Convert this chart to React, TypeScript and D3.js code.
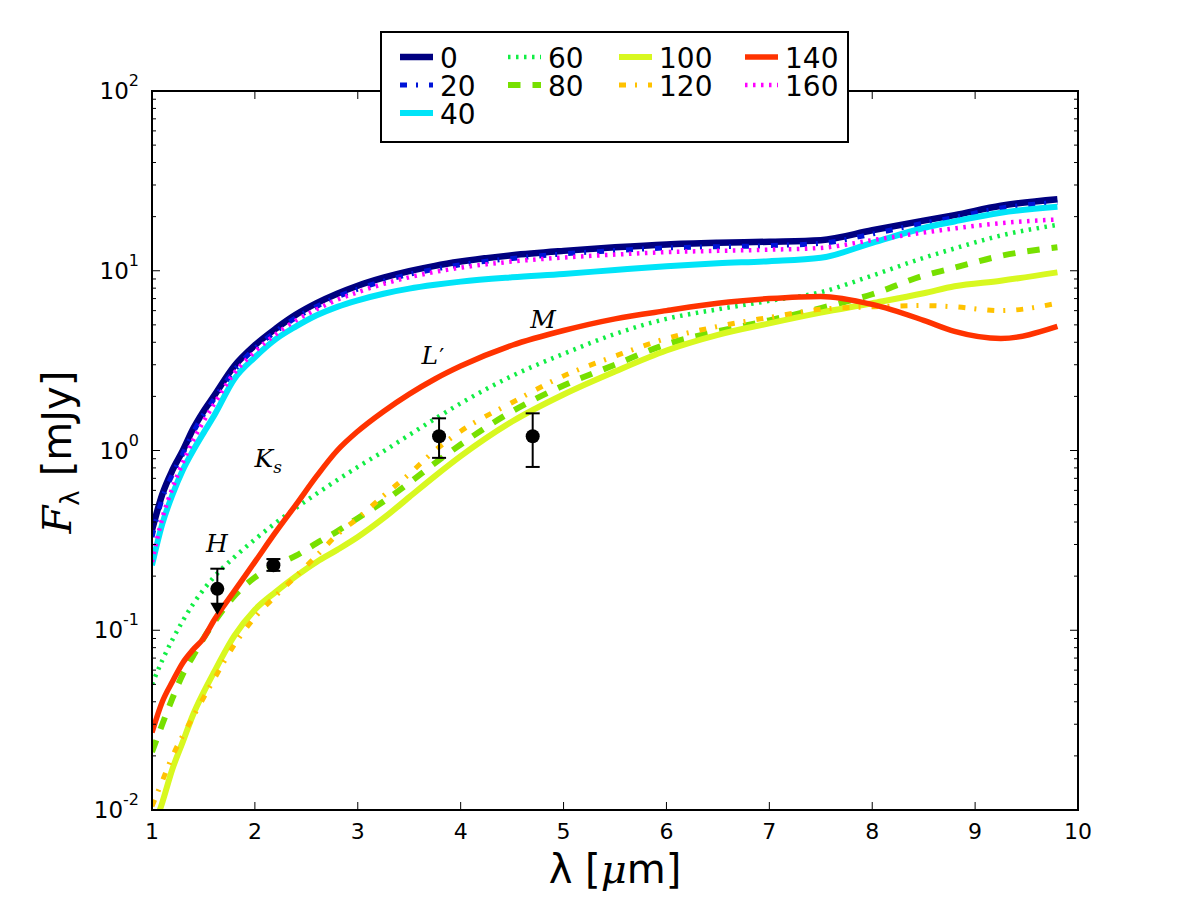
import * as d3 from "d3";

// wavelength grid (micron) shared by all model curves
const lambda = [1.0, 1.1, 1.2, 1.3, 1.4, 1.5, 1.6, 1.8, 2.0, 2.2, 2.4, 2.6, 2.8, 3.0, 3.25, 3.5, 3.75, 4.0, 4.5, 5.0, 5.5, 6.0, 6.5, 7.0, 7.5, 8.0, 8.5, 8.8, 9.25, 9.8];

// model fluxes in mJy, one array per label
const flux0 = [0.36, 0.57, 0.78, 1.0, 1.32, 1.65, 2.0, 2.95, 3.85, 4.75, 5.7, 6.6, 7.45, 8.25, 9.15, 9.95, 10.65, 11.25, 12.2, 12.9, 13.5, 14.0, 14.3, 14.5, 14.8, 16.8, 19.0, 20.4, 23.0, 25.0];
const flux20 = [0.33, 0.54, 0.74, 0.96, 1.26, 1.58, 1.92, 2.8, 3.7, 4.58, 5.48, 6.33, 7.15, 7.9, 8.75, 9.55, 10.2, 10.8, 11.7, 12.4, 12.95, 13.4, 13.6, 13.8, 14.2, 16.0, 18.4, 19.8, 22.3, 24.0];
const flux40 = [0.23, 0.39, 0.57, 0.78, 1.0, 1.25, 1.55, 2.5, 3.3, 4.15, 4.9, 5.65, 6.3, 6.85, 7.45, 7.95, 8.35, 8.7, 9.2, 9.6, 10.1, 10.6, 11.0, 11.3, 11.8, 14.3, 17.3, 18.8, 21.0, 22.7];
const flux60 = [0.05, 0.068, 0.089, 0.113, 0.14, 0.168, 0.197, 0.255, 0.32, 0.395, 0.48, 0.575, 0.685, 0.81, 0.99, 1.22, 1.5, 1.83, 2.6, 3.45, 4.45, 5.4, 6.1, 6.8, 7.6, 9.4, 11.8, 13.3, 15.7, 18.0];
const flux80 = [0.021, 0.03, 0.042, 0.057, 0.072, 0.09, 0.11, 0.155, 0.197, 0.23, 0.26, 0.305, 0.355, 0.42, 0.52, 0.66, 0.85, 1.08, 1.65, 2.3, 3.0, 3.9, 4.6, 5.3, 6.2, 7.4, 9.4, 10.4, 12.1, 13.5];
const flux100 = [0.0075, 0.011, 0.017, 0.024, 0.034, 0.045, 0.058, 0.093, 0.13, 0.163, 0.2, 0.24, 0.28, 0.33, 0.42, 0.55, 0.72, 0.93, 1.45, 2.05, 2.75, 3.6, 4.4, 5.1, 5.85, 6.6, 7.5, 8.2, 8.8, 9.8];
const flux120 = [0.0105, 0.0145, 0.02, 0.026, 0.033, 0.042, 0.053, 0.083, 0.118, 0.155, 0.2, 0.26, 0.34, 0.42, 0.56, 0.74, 1.0, 1.28, 1.85, 2.6, 3.35, 4.2, 4.9, 5.5, 6.1, 6.3, 6.4, 6.3, 6.0, 6.6];
const flux140 = [0.027, 0.04, 0.052, 0.066, 0.078, 0.09, 0.113, 0.165, 0.24, 0.35, 0.5, 0.72, 1.0, 1.28, 1.65, 2.06, 2.5, 2.95, 3.85, 4.65, 5.4, 6.0, 6.6, 7.0, 7.2, 6.5, 5.3, 4.6, 4.2, 4.9];
const flux160 = [0.24, 0.42, 0.62, 0.86, 1.14, 1.45, 1.8, 2.7, 3.55, 4.42, 5.3, 6.1, 6.9, 7.6, 8.45, 9.2, 9.85, 10.4, 11.25, 11.85, 12.3, 12.7, 12.9, 13.1, 13.4, 14.8, 16.3, 17.2, 18.4, 19.3];

const seriesLabels = ["0", "20", "40", "60", "80", "100", "120", "140", "160"];
const seriesFlux = [flux0, flux20, flux40, flux60, flux80, flux100, flux120, flux140, flux160];
const seriesColors = ["#000080", "#0014d8", "#00e4f8", "#11ee44", "#77e000", "#d8f820", "#ffc200", "#ff3300", "#ff00ff"];
const seriesWidths = [6.5, 5, 6, 4.5, 6, 6, 5, 5.5, 4.5];
const seriesDash = ["", "7,9,2,11", "", "2.5,5.5", "12.5,12", "", "7,9,2,11", "", "2.5,5.5"];

// photometry
const obsLambda = [1.635, 2.18, 3.79, 4.7];
const obsFlux = [0.17, 0.23, 1.2, 1.2];
const obsHigh = [0.22, 0.249, 1.51, 1.61];
const obsLow = [0.122, 0.214, 0.91, 0.81];
const obsUpperLimit = [true, false, false, false];

// band annotations
const bandNames = ["H", "K", "L", "M"];
const bandSub = ["", "s", "", ""];
const bandPrime = ["", "", "′", ""];
const bandLambda = [1.63, 2.13, 3.73, 4.8];
const bandFlux = [0.272, 0.81, 3.03, 4.8];

const xTicks = [1, 2, 3, 4, 5, 6, 7, 8, 9, 10];
const yExponents = [-2, -1, 0, 1, 2];

const left = 152, right = 1078, top = 91, bottom = 810;

export default function App() {
	const x = d3.scaleLinear().domain([1, 10]).range([left, right]);
	const y = d3.scaleLog().domain([0.01, 100]).range([bottom, top]);

	const line = d3
		.line<number>()
		.x((_, i) => x(lambda[i]))
		.y(d => y(d))
		.curve(d3.curveMonotoneX);

	const minorY: number[] = [];
	yExponents.slice(0, -1).forEach(e => {
		for (let m = 2; m <= 9; m++) minorY.push(m * Math.pow(10, e));
	});

	const legendCols = [400, 508, 619, 745];
	const legendRows = [57, 85, 113];
	const legendPos = [
		[0, 0], [0, 1], [0, 2],
		[1, 0], [1, 1],
		[2, 0], [2, 1],
		[3, 0], [3, 1],
	];

	return (
		<svg width={1200} height={900} style={{ position: "absolute", left: 0, top: 0, background: "#fff" }}
			fontFamily="DejaVu Sans">
			<defs>
				<clipPath id="plot">
					<rect x={left} y={top} width={right - left} height={bottom - top} />
				</clipPath>
			</defs>
			<rect width={1200} height={900} fill="#fff" />

			{/* model curves */}
			<g clipPath="url(#plot)">
				{seriesFlux.map((f, i) => (
					<path key={i} d={line(f) || ""} fill="none" stroke={seriesColors[i]}
						strokeWidth={seriesWidths[i]} strokeDasharray={seriesDash[i] || undefined}
						strokeLinejoin="round" />
				))}
			</g>

			{/* photometry with error bars */}
			<g stroke="#000" strokeWidth={2}>
				{obsLambda.map((l, i) => {
					const cx = x(l);
					return (
						<g key={i}>
							<line x1={cx} x2={cx} y1={y(obsHigh[i])} y2={obsUpperLimit[i] ? y(obsLow[i]) - 10 : y(obsLow[i])} />
							<line x1={cx - 7} x2={cx + 7} y1={y(obsHigh[i])} y2={y(obsHigh[i])} />
							{obsUpperLimit[i] ? (
								<path d={`M${cx - 7},${y(obsLow[i]) - 12}L${cx + 7},${y(obsLow[i]) - 12}L${cx},${y(obsLow[i])}Z`} fill="#000" stroke="none" />
							) : (
								<line x1={cx - 7} x2={cx + 7} y1={y(obsLow[i])} y2={y(obsLow[i])} />
							)}
							<circle cx={cx} cy={y(obsFlux[i])} r={7} fill="#000" stroke="none" />
						</g>
					);
				})}
			</g>

			{/* band labels */}
			<g fontFamily="DejaVu Serif" fontStyle="italic" fontSize={25} textAnchor="middle">
				{bandNames.map((b, i) => (
					<text key={b} x={x(bandLambda[i])} y={y(bandFlux[i])}>
						{b}
						{bandSub[i] && <tspan fontSize={17} dy={6}>{bandSub[i]}</tspan>}
						{bandPrime[i] && <tspan fontFamily="DejaVu Sans" fontStyle="normal" fontSize={22} dx={1}>{bandPrime[i]}</tspan>}
					</text>
				))}
			</g>

			{/* ticks */}
			<g stroke="#000" strokeWidth={1}>
				{xTicks.map(t => (
					<g key={t}>
						<line x1={x(t)} x2={x(t)} y1={bottom} y2={bottom - 8} />
						<line x1={x(t)} x2={x(t)} y1={top} y2={top + 8} />
					</g>
				))}
				{yExponents.map(e => (
					<g key={e}>
						<line x1={left} x2={left + 8} y1={y(Math.pow(10, e))} y2={y(Math.pow(10, e))} />
						<line x1={right} x2={right - 8} y1={y(Math.pow(10, e))} y2={y(Math.pow(10, e))} />
					</g>
				))}
				{minorY.map((v, i) => (
					<g key={i}>
						<line x1={left} x2={left + 4} y1={y(v)} y2={y(v)} />
						<line x1={right} x2={right - 4} y1={y(v)} y2={y(v)} />
					</g>
				))}
			</g>
			<rect x={left} y={top} width={right - left} height={bottom - top} fill="none" stroke="#000" strokeWidth={2} />

			{/* tick labels */}
			<g fontSize={22} textAnchor="middle">
				{xTicks.map(t => (
					<text key={t} x={x(t)} y={bottom + 29}>{t}</text>
				))}
			</g>
			<g fontSize={23} textAnchor="end">
				{yExponents.map(e => (
					<text key={e} x={left - 13} y={y(Math.pow(10, e)) + 8}>
						10<tspan fontSize={16} dy={-13}>{e < 0 ? "-" + Math.abs(e) : e}</tspan>
					</text>
				))}
			</g>

			{/* axis titles */}
			<text x={(left + right) / 2} y={883} textAnchor="middle" fontSize={40}>
				<tspan>λ [</tspan><tspan fontFamily="DejaVu Serif" fontStyle="italic">μ</tspan><tspan>m]</tspan>
			</text>
			<text transform="translate(71,452) rotate(-90)" textAnchor="middle" fontSize={40}>
				<tspan fontFamily="DejaVu Serif" fontStyle="italic">F</tspan>
				<tspan fontSize={26} dy={8}>λ</tspan>
				<tspan dx={14} dy={-8}>[mJy]</tspan>
			</text>

			{/* legend */}
			<rect x={381} y={32} width={467} height={110} fill="#fff" stroke="#000" strokeWidth={2} />
			{seriesLabels.map((s, i) => {
				const lx = legendCols[legendPos[i][0]];
				const ly = legendRows[legendPos[i][1]];
				return (
					<g key={s}>
						<line x1={lx} x2={lx + 33} y1={ly} y2={ly} stroke={seriesColors[i]}
							strokeWidth={seriesWidths[i]} strokeDasharray={seriesDash[i] || undefined} />
						<text x={lx + 40} y={ly + 11} fontSize={28}>{s}</text>
					</g>
				);
			})}
		</svg>
	);
}
